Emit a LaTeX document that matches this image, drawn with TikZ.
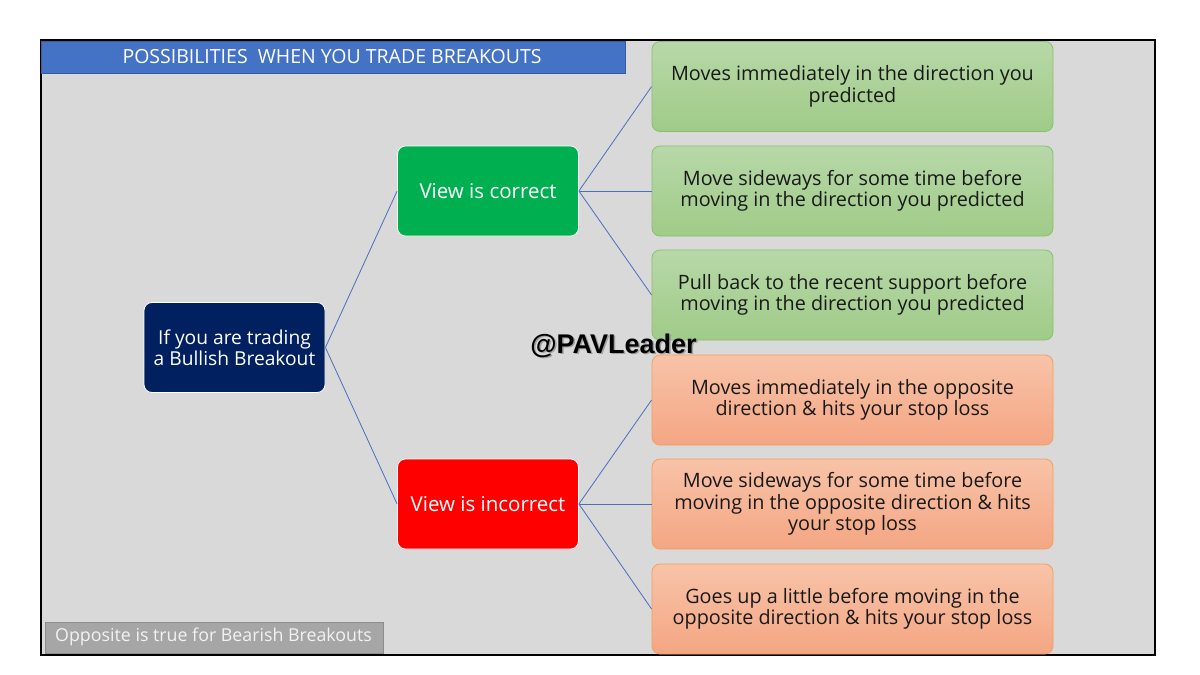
\documentclass[tikz,border=0pt]{standalone}
\usepackage{fontspec}
\setmainfont{Open Sans}
\newfontfamily\wmfont{Liberation Sans}
\definecolor{frameg}{HTML}{D9D9D9}
\definecolor{titleblue}{HTML}{4472C4}
\definecolor{navy}{HTML}{002060}
\definecolor{okgreen}{HTML}{00B050}
\definecolor{lgtop}{HTML}{B7D8A8}
\definecolor{lgbot}{HTML}{A0CB88}
\definecolor{lgedge}{HTML}{8CBF6C}
\definecolor{lotop}{HTML}{F8C3A8}
\definecolor{lobot}{HTML}{F4A683}
\definecolor{loedge}{HTML}{F0A060}
\definecolor{notegray}{HTML}{A6A6A6}
\definecolor{linkblue}{HTML}{4A6FBE}
\tikzset{
  mainbox/.style={rounded corners=8pt, draw=white, line width=0.8pt, minimum width=181pt, minimum height=90pt, align=center, text=white, font=\fontsize{20.5}{21.5}\selectfont},
  greenbox/.style={rounded corners=8pt, draw=lgedge, line width=0.8pt, top color=lgtop, bottom color=lgbot, minimum width=401pt, minimum height=90pt, align=center, text=black!90, font=\fontsize{19.8}{21.5}\selectfont},
  orangebox/.style={greenbox, draw=loedge, top color=lotop, bottom color=lobot},
  link/.style={draw=linkblue, line width=0.8pt}
}
\begin{document}
\begin{tikzpicture}[x=1pt,y=-1pt]
\useasboundingbox (0,0) rectangle (1200,675);
\fill[white] (0,0) rectangle (1200,675);
% frame
\filldraw[fill=frameg, draw=black, line width=2pt] (41,40) rectangle (1155,655);
% title
\filldraw[fill=titleblue, draw=titleblue!80!black, line width=0.8pt] (41,41) rectangle (625,73);
\node[text=white, font=\fontsize{19.5}{21}\selectfont, inner sep=0pt] (title) at (332,57) {POSSIBILITIES\ \ WHEN YOU TRADE BREAKOUTS};
% nodes
\node[mainbox, fill=navy, font=\fontsize{19.2}{21.5}\selectfont] (root) at (234.5,347.5) {If you are trading\\a Bullish Breakout};
\node[mainbox, fill=okgreen] (ok) at (488,191) {View is correct};
\node[mainbox, fill=red] (bad) at (488,504) {View is incorrect};
\node[greenbox] (g1) at (852.5,86.5) {Moves immediately in the direction you\\predicted};
\node[greenbox] (g2) at (852.5,191) {Move sideways for some time before\\moving in the direction you predicted};
\node[greenbox] (g3) at (852.5,295) {Pull back to the recent support before\\moving in the direction you predicted};
\node[orangebox] (o1) at (852.5,400) {Moves immediately in the opposite\\direction \& hits your stop loss};
\node[orangebox] (o2) at (852.5,504) {Move sideways for some time before\\moving in the opposite direction \& hits\\your stop loss};
\node[orangebox] (o3) at (852.5,609) {Goes up a little before moving in the\\opposite direction \& hits your stop loss};
% links
\draw[link] (root.east) -- (ok.west);
\draw[link] (root.east) -- (bad.west);
\foreach \t in {g1,g2,g3} \draw[link] (ok.east) -- (\t.west);
\foreach \t in {o1,o2,o3} \draw[link] (bad.east) -- (\t.west);
% watermark
\node[font=\wmfont\bfseries\fontsize{27}{29}\selectfont, text=black!60, opacity=0.5] at (615,347) {@PAVLeader};
\node[font=\wmfont\bfseries\fontsize{27}{29}\selectfont, text=black] (wm) at (613.5,345.5) {@PAVLeader};
% note
\filldraw[fill=notegray, draw=black!45, line width=0.8pt] (45,622) rectangle (383,653);
\node[text=white!95!black, font=\fontsize{17.8}{20}\selectfont, inner sep=0pt, anchor=west] (note) at (55,637) {Opposite is true for Bearish Breakouts};
\end{tikzpicture}
\end{document}
